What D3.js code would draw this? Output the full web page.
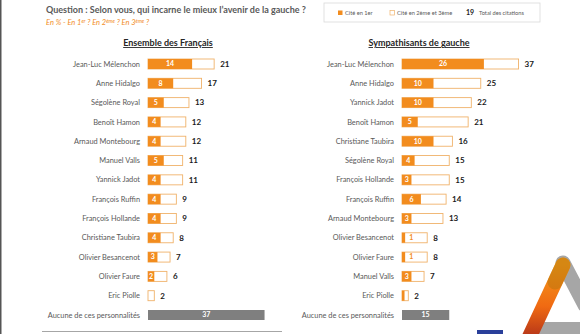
<!DOCTYPE html>
<html>
<head>
<meta charset="utf-8">
<script src="https://cdn.jsdelivr.net/npm/d3@7"></script>
<style>
  html, body { margin: 0; padding: 0; background: #fff; }
  svg { display: block; font-family: Lato, "Open Sans", sans-serif; }
</style>
</head>
<body>
<svg id="chart" width="580" height="334"></svg>
<script>
// Ensemble des Français
var namesAll = ['Jean-Luc Mélenchon', 'Anne Hidalgo', 'Ségolène Royal', 'Benoît Hamon',
  'Arnaud Montebourg', 'Manuel Valls', 'Yannick Jadot', 'François Ruffin', 'François Hollande',
  'Christiane Taubira', 'Olivier Besancenot', 'Olivier Faure', 'Eric Piolle'];
var firstAll = [14, 8, 5, 4, 4, 5, 4, 4, 4, 4, 3, 2, 0];
var totalAll = [21, 17, 13, 12, 12, 11, 11, 9, 9, 8, 7, 6, 2];
var noneAll = 37;

// Sympathisants de gauche
var namesLeft = ['Jean-Luc Mélenchon', 'Anne Hidalgo', 'Yannick Jadot', 'Benoît Hamon',
  'Christiane Taubira', 'Ségolène Royal', 'François Hollande', 'François Ruffin',
  'Arnaud Montebourg', 'Olivier Besancenot', 'Olivier Faure', 'Manuel Valls', 'Eric Piolle'];
var firstLeft = [26, 10, 10, 5, 10, 4, 3, 6, 3, 1, 1, 3, 0.8];
var totalLeft = [37, 25, 22, 21, 16, 15, 15, 14, 13, 8, 8, 7, 2];
var noneLeft = 15;

var noneLabel = 'Aucune de ces personnalités';

var ORANGE = '#f28c1e';
var OUTLINE = '#f0b26a';
var GREY_BAR = '#7f7f7f';
var TEXT = '#595959';

var svg = d3.select('#chart');

// thin frame line on the left edge
svg.append('rect').attr('x', 0).attr('y', 0).attr('width', 1.5).attr('height', 334).attr('fill', '#555');

// question + sub-question
svg.append('text')
  .attr('x', 46).attr('y', 12.5)
  .attr('font-size', 9).attr('font-weight', 700).attr('fill', TEXT)
  .text('Question : Selon vous, qui incarne le mieux l\u2019avenir de la gauche ?');

var sub = svg.append('text')
  .attr('x', 46).attr('y', 25)
  .attr('font-size', 7.5).attr('font-style', 'italic').attr('fill', ORANGE);
sub.append('tspan').text('En % - En 1');
sub.append('tspan').attr('dy', -2.5).attr('font-size', 5).text('er');
sub.append('tspan').attr('dy', 2.5).text(' ? En 2');
sub.append('tspan').attr('dy', -2.5).attr('font-size', 5).text('ème');
sub.append('tspan').attr('dy', 2.5).text(' ? En 3');
sub.append('tspan').attr('dy', -2.5).attr('font-size', 5).text('ème');
sub.append('tspan').attr('dy', 2.5).text(' ?');

// legend
var leg = svg.append('g').attr('transform', 'translate(324,3)');
leg.append('rect').attr('width', 216).attr('height', 19)
  .attr('fill', '#fff').attr('stroke', '#d9d9d9').attr('stroke-width', 0.8);
leg.append('rect').attr('x', 14).attr('y', 7.5).attr('width', 4.5).attr('height', 4.5).attr('fill', ORANGE);
leg.append('text').attr('x', 21).attr('y', 12).attr('font-size', 5.7).attr('fill', TEXT).text('Cité en 1er');
leg.append('rect').attr('x', 66).attr('y', 7.5).attr('width', 4.5).attr('height', 4.5)
  .attr('fill', '#fff').attr('stroke', OUTLINE).attr('stroke-width', 0.7);
leg.append('text').attr('x', 73).attr('y', 12).attr('font-size', 5.7).attr('fill', TEXT).text('Cité en 2ème et 3ème');
leg.append('text').attr('x', 142).attr('y', 12.3).attr('font-size', 7).attr('font-weight', 700).attr('fill', '#222').text('19');
leg.append('text').attr('x', 155).attr('y', 12).attr('font-size', 5.7).attr('fill', TEXT).text('Total des citations');

var x = d3.scaleLinear().domain([0, 40]).range([0, 126]);
var barH = 10;

function drawPanel(title, titleX, labelX, barX, names, first, total, none) {
  var g = svg.append('g');

  g.append('text')
    .attr('x', titleX).attr('y', 46)
    .attr('text-anchor', 'middle')
    .attr('font-size', 9).attr('font-weight', 700).attr('fill', '#262626')
    .attr('text-decoration', 'underline')
    .text(title);

  var rows = names.concat([noneLabel]);
  var y = d3.scalePoint().domain(rows).range([64, 315]);

  var data = names.map(function (n, i) { return { name: n, first: first[i], total: total[i] }; });

  g.selectAll('.name').data(rows).enter().append('text')
    .attr('class', 'name')
    .attr('x', labelX).attr('y', function (d) { return y(d) + 2.6; })
    .attr('text-anchor', 'end')
    .attr('font-size', 7.4).attr('fill', TEXT)
    .text(function (d) { return d; });

  var row = g.selectAll('.row').data(data).enter().append('g')
    .attr('class', 'row')
    .attr('transform', function (d) { return 'translate(' + barX + ',' + (y(d.name) - barH / 2) + ')'; });

  // total citations (outline)
  row.append('rect')
    .attr('x', 0).attr('y', 0)
    .attr('width', function (d) { return x(d.total); })
    .attr('height', barH)
    .attr('fill', '#fff').attr('stroke', OUTLINE).attr('stroke-width', 0.9);

  // cited first (filled)
  row.append('rect')
    .attr('x', 0).attr('y', 0)
    .attr('width', function (d) { return x(d.first); })
    .attr('height', barH)
    .attr('fill', ORANGE);

  row.filter(function (d) { return d.first >= 1; }).append('text')
    .attr('x', function (d) { return d.first >= 2 ? x(d.first) / 2 : x(d.first) + 4; })
    .attr('y', barH / 2 + 2.4)
    .attr('text-anchor', function (d) { return d.first >= 2 ? 'middle' : 'start'; })
    .attr('font-size', 7).attr('font-weight', 700)
    .attr('fill', function (d) { return d.first >= 2 ? '#fff' : ORANGE; })
    .text(function (d) { return d.first; });

  row.append('text')
    .attr('x', function (d) { return x(d.total) + 6; })
    .attr('y', barH / 2 + 2.8)
    .attr('font-size', 8).attr('font-weight', 700).attr('fill', '#1a1a1a')
    .text(function (d) { return d.total; });

  // "Aucune de ces personnalités"
  var ny = y(noneLabel) - barH / 2;
  g.append('rect')
    .attr('x', barX).attr('y', ny)
    .attr('width', x(none)).attr('height', barH)
    .attr('fill', GREY_BAR);
  g.append('text')
    .attr('x', barX + x(none) / 2).attr('y', ny + barH / 2 + 2.4)
    .attr('text-anchor', 'middle')
    .attr('font-size', 7).attr('font-weight', 700).attr('fill', '#fff')
    .text(none);
}

drawPanel('Ensemble des Français', 168, 140, 148, namesAll, firstAll, totalAll, noneAll);
drawPanel('Sympathisants de gauche', 419, 394, 402, namesLeft, firstLeft, totalLeft, noneLeft);

// rule under the first panel
svg.append('line').attr('x1', 42).attr('x2', 282).attr('y1', 331.5).attr('y2', 331.5)
  .attr('stroke', '#a6a6a6').attr('stroke-width', 1);

// corner logo
var defs = svg.append('defs');
var grad = defs.append('linearGradient').attr('id', 'logoGrad')
  .attr('x1', '0%').attr('y1', '100%').attr('x2', '0%').attr('y2', '0%');
grad.append('stop').attr('offset', '0%').attr('stop-color', '#b0301a');
grad.append('stop').attr('offset', '45%').attr('stop-color', '#f06a12');
grad.append('stop').attr('offset', '100%').attr('stop-color', '#f39a1a');

var logo = svg.append('g');
logo.append('path').attr('d', 'M563,263 L585,305').attr('stroke', '#a6a6a6')
  .attr('stroke-width', 15).attr('stroke-linecap', 'round').attr('fill', 'none');
logo.append('rect').attr('x', 538).attr('y', 322).attr('width', 45).attr('height', 14).attr('fill', '#a6a6a6');
logo.append('path').attr('d', 'M563,265 L528,340').attr('stroke', 'url(#logoGrad)')
  .attr('stroke-width', 15).attr('stroke-linecap', 'round').attr('fill', 'none');
logo.append('path').attr('d', 'M563,265 L555,282').attr('stroke', '#b7740c')
  .attr('stroke-width', 15).attr('stroke-linecap', 'round').attr('fill', 'none').attr('opacity', 0.5);
logo.append('rect').attr('x', 477).attr('y', 330).attr('width', 26).attr('height', 5).attr('fill', '#2a3f9a');
</script>
</body>
</html>
